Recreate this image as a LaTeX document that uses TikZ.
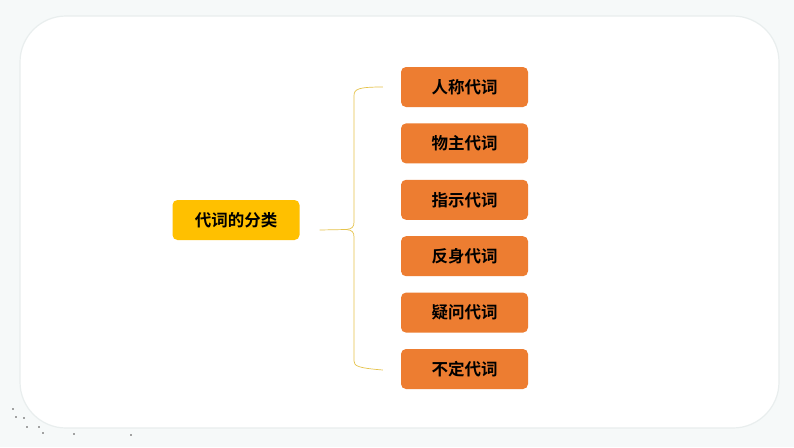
\documentclass[tikz,border=0pt]{standalone}
\usepackage{fontspec}
\newfontfamily\cjk{Noto Sans CJK SC}[BoldFont={Noto Sans CJK SC Bold}]
\usetikzlibrary{positioning,calc}
\definecolor{kind}{HTML}{ED7D31}
\definecolor{title}{HTML}{FFC000}
\definecolor{brace}{HTML}{E6C34A}
\definecolor{frame}{HTML}{E9EEEE}
\definecolor{paper}{HTML}{F6F9F9}
\tikzset{kindbox/.style={rectangle,rounded corners=5pt,fill=kind,minimum width=127pt,minimum height=40pt,font=\cjk\bfseries\fontsize{16.5}{16.5}\selectfont,inner sep=0pt},
         titlebox/.style={kindbox,fill=title},
         bracket/.style={draw=brace,line width=0.7pt}
}

\begin{document}
\begin{tikzpicture}[x=1pt,y=-1pt]
      \useasboundingbox (0,0) rectangle (794,447);
      \fill[paper] (0,0) rectangle (794,447);
      \draw[frame,fill=white,line width=1.2pt,rounded corners=46pt] (20,16) rectangle (779,428);
      % little dots in the corner
      \foreach \p in {(13,409),(16,417),(24,418),(27,427),(39,427),(43,433),(74,434),(131,435)}
        \fill[black!70] \p circle (0.9pt);
      \node[titlebox] (cls) at (236,220) {代词的分类};
      \node[kindbox] (k1) at (464.5,87) {人称代词};
      \node[kindbox,below=16pt of k1] (k2) {物主代词};
      \node[kindbox,below=16pt of k2] (k3) {指示代词};
      \node[kindbox,below=16pt of k3] (k4) {反身代词};
      \node[kindbox,below=16pt of k4] (k5) {疑问代词};
      \node[kindbox,below=16pt of k5] (k6) {不定代词};
      \coordinate (top) at ($(k1.west)+(-18,0)$);
      \coordinate (bot) at ($(k6.west)+(-18,1)$);
      \coordinate (tip) at (346,229.5);
      \draw[bracket] (top) .. controls (358,87) and (354,89) .. (354,96) -- (354,222) .. controls (354,227) and (352,229) .. (tip);
      \draw[bracket] (bot) .. controls (358,368) and (354,366) .. (354,361) -- (354,237) .. controls (354,232) and (352,230) .. (tip);
      \draw[bracket] ($(cls.east)+(20,10)$) -- (tip);
    \end{tikzpicture}
\end{document}
